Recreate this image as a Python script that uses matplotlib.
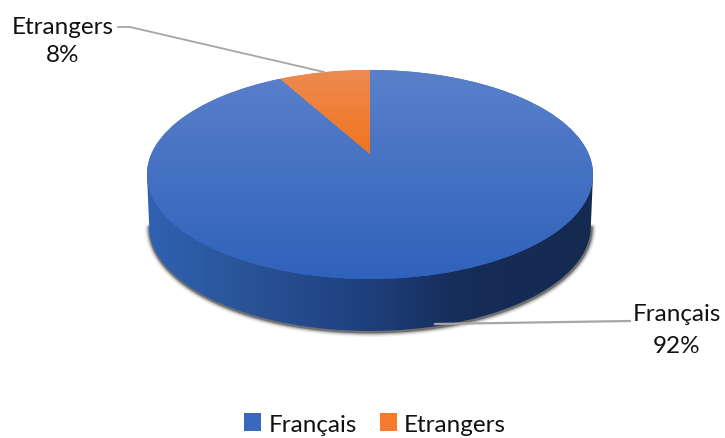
import numpy as np
import matplotlib
matplotlib.use("Agg")
import matplotlib.pyplot as plt
from matplotlib.colors import LinearSegmentedColormap
from matplotlib.patches import PathPatch
from matplotlib.path import Path
from matplotlib.transforms import Transform

categories = ["Français", "Etrangers"]
values = [92, 8]
percent_labels = ["92%", "8%"]

plt.rcParams["font.family"] = ["Lato", "DejaVu Sans"]


class Perspective(Transform):
    """Unit circle of the pie to tilted-disc pixel positions."""
    input_dims = output_dims = 2
    has_inverse = False

    def __init__(self, cx=370, cy=155, ax_=218.7, ay_=100.5, c=0.196, dy=0, scale=1.0):
        super().__init__()
        self.p = (cx, cy, ax_, ay_, c, dy, scale)

    def transform_non_affine(self, xy):
        cx, cy, a_x, a_y, c, dy, s = self.p
        xy = np.asarray(xy, float)
        d = 1 + c * xy[:, 1]
        return np.column_stack((cx + s * a_x * xy[:, 0] / d,
                                cy + dy - a_y * xy[:, 1] / d))

    def transform_path_non_affine(self, path):
        p = path.interpolated(1)
        return Path(self.transform_non_affine(p.vertices), p.codes)


def wall_outline(top, bottom):
    """Outline of the visible side wall, in pixel coordinates."""
    t = np.linspace(0, 2 * np.pi, 721)[:-1]
    unit = np.column_stack((np.cos(t), np.sin(t)))
    a, b = top.transform_non_affine(unit), bottom.transform_non_affine(unit)
    left_t, right_t = a[np.argmin(a[:, 0])], a[np.argmax(a[:, 0])]
    b_cy = 0.5 * (b[:, 1].max() + b[:, 1].min())
    lower = b[b[:, 1] >= b_cy]
    lower = lower[np.argsort(lower[:, 0])]
    return np.vstack(([left_t], lower, [right_t]))


fig = plt.figure(figsize=(7.25, 4.39), dpi=100, facecolor="white")
ax = fig.add_axes([0, 0, 1, 1])

wedges, _ = ax.pie(values, startangle=90, counterclock=False,
                   colors=["#3a68bf", "#f37b2b"], radius=1)
ax.set_aspect("auto")
top = Perspective()
for w in wedges:
    w.set_transform(top + ax.transData)
    w.set_zorder(3)
    w.set_edgecolor("none")

bottom = Perspective(dy=52, scale=0.99)
outline = wall_outline(top, bottom)
wall_path = Path(np.vstack((outline, outline[:1])), closed=True)

# soft shadow below the wall (starts a little below the widest points of the disc)
shadow = outline[outline[:, 1] > 195]
for lw, alpha in [(7, 0.07), (5, 0.13), (3.5, 0.22), (2, 0.42)]:
    ax.add_patch(PathPatch(Path(shadow + [0.5, 1.0]), fc="none", ec="#202020", lw=lw,
                           alpha=alpha, zorder=1, capstyle="round"))

# side wall: dark-to-darker horizontal shade
wall_cmap = LinearSegmentedColormap.from_list(
    "wall", [(0, "#2f62b2"), (0.2, "#2a5599"), (0.5, "#1e3f7c"), (0.7, "#172d5a"), (1, "#142a50")])
wall = ax.imshow(np.linspace(0, 1, 256)[None, :], cmap=wall_cmap, aspect="auto",
                 extent=(147, 593, 340, 150), zorder=2)
low = PathPatch(wall_path, fc="none", ec="none", transform=ax.transData)
ax.add_patch(low)
wall.set_clip_path(low)

# gradients on the top face
blue_cmap = LinearSegmentedColormap.from_list("b", ["#5a80ca", "#2f62bb"])
orange_cmap = LinearSegmentedColormap.from_list("o", ["#ec8b52", "#f2741f"])
g = np.linspace(0, 1, 256)[:, None]
im1 = ax.imshow(g, cmap=blue_cmap, aspect="auto", extent=(140, 600, 282, 70), zorder=4)
im1.set_clip_path(wedges[0])
im2 = ax.imshow(g, cmap=orange_cmap, aspect="auto", extent=(270, 375, 156, 70), zorder=4)
im2.set_clip_path(wedges[1])

# leader lines and labels
FS = 17.5
ax.plot([118, 130, 324], [28, 28, 73], color="#a6a6a6", lw=1.3, zorder=5)
ax.plot([435, 630], [325, 322], color="#a6a6a6", lw=1.6, zorder=5)
ax.text(63, 28, categories[1], ha="center", va="center", fontsize=FS, color="#111111")
ax.text(63, 55, percent_labels[1], ha="center", va="center", fontsize=FS, color="#111111")
ax.text(677, 315, categories[0], ha="center", va="center", fontsize=FS, color="#111111")
ax.text(677, 347, percent_labels[0], ha="center", va="center", fontsize=FS, color="#111111")

ax.legend(wedges, categories, ncol=2, loc="center", bbox_to_anchor=(375 / 725, 1 - 425 / 439),
          frameon=False, fontsize=FS, handlelength=0.7, handleheight=0.7,
          handletextpad=0.3, columnspacing=0.95, labelcolor="#111111")

ax.set_xlim(0, 725)
ax.set_ylim(439, 0)
ax.axis("off")
fig.savefig("out.png", dpi=100)
